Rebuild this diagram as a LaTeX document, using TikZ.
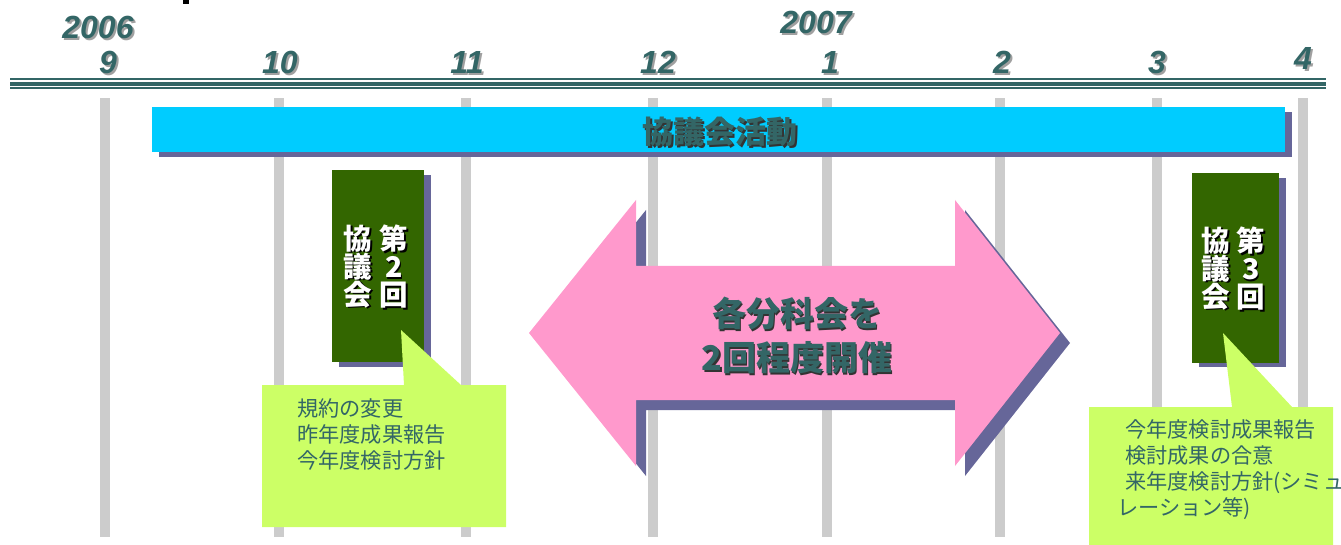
\documentclass[tikz,border=0pt]{standalone}
\usepackage{fontspec}
\setmainfont{Liberation Sans}
\newfontfamily\cjk{Noto Sans CJK JP}
\definecolor{tealtxt}{HTML}{336666}
\definecolor{shadowg}{HTML}{A0A0A0}
\definecolor{barg}{HTML}{CCCCCC}
\definecolor{bannerc}{HTML}{00CCFF}
\definecolor{shadowp}{HTML}{666699}
\definecolor{pinkc}{HTML}{FF99CC}
\definecolor{darkg}{HTML}{336600}
\definecolor{limec}{HTML}{CCFF66}
\begin{document}
\begin{tikzpicture}[x=1pt,y=-1pt,
  bar/.style={fill=barg,draw=none},
  mlab/.style={font=\bfseries\itshape\fontsize{32}{32}\selectfont,text=tealtxt,inner sep=0pt},
  mshad/.style={mlab,text=shadowg},
  bigcjk/.style={font=\cjk\bfseries\fontsize{31}{31}\selectfont,text=tealtxt,inner sep=0pt},
  bigshad/.style={bigcjk,text=black!80},
  arrtxt/.style={font=\cjk\bfseries\fontsize{34}{44}\selectfont,text=tealtxt,inner sep=0pt,align=center},
  arrshad/.style={arrtxt,text=black!80},
  vtxt/.style={font=\cjk\bfseries\fontsize{28.5}{28}\selectfont,text=white,inner sep=0pt,align=center},
  vshad/.style={vtxt,text=black},
  calltxt/.style={font=\cjk\fontsize{21.2}{26}\selectfont,text=tealtxt,inner sep=0pt,anchor=base west}]
\useasboundingbox (0,0) rectangle (1341,545);
\clip (0,0) rectangle (1341,545);
% title fragment
\fill[black] (183,0) rectangle (189,4);
% month labels
\foreach \x/\y/\t/\n in {98/27/2006/y6,816/22/2007/y7,108/62/9/m9,280/62/10/m10,467/62/11/m11,658/62/12/m12,830/62/1/m1,1002/62/2/m2,1157/62/3/m3,1303/58/4/m4}{
  \node[mshad] (s\n) at (\x+2,\y+2) {\t};
  \node[mlab] (\n) at (\x,\y) {\t};
}
% triple rule
\draw[tealtxt,line width=1.7pt] (10,79.2) -- (1326,79.2);
\draw[tealtxt,line width=3.4pt] (10,84) -- (1326,84);
\draw[tealtxt,line width=2pt] (10,88.3) -- (1326,88.3);
% gray bars
\foreach \x/\n in {105/b9,279/b10,466/b11,653/b12,827/b1,1000/b2,1157/b3,1303/b4}{
  \fill[bar] (\x-5,98) rectangle (\x+5,537);
  \coordinate (\n) at (\x,98);
}
% banner
\fill[shadowp] (159,112) rectangle (1292,157);
\node[fill=bannerc,minimum width=1133pt,minimum height=45pt,inner sep=0pt] (banner) at (718.5,129.5) {};
\node[bigshad] (bannershad) at (721.5,133.5) {協議会活動};
\node[bigcjk] (bannertxt) at (720,132) {協議会活動};
% double arrow
\fill[shadowp] (539,343) -- (646,210) -- (646,276) -- (965,276) -- (965,210) -- (1070,343) -- (965,476) -- (965,410) -- (646,410) -- (646,476) -- cycle;
\fill[pinkc] (529,333) -- (636,200) -- (636,266) -- (955,266) -- (955,200) -- (1060,333) -- (955,466) -- (955,400) -- (636,400) -- (636,466) -- cycle;
\node[arrshad] (arrshad) at (798.5,337) {各分科会を\\2回程度開催};
\node[arrtxt] (arrtxt) at (797,335.5) {各分科会を\\2回程度開催};
% meeting boxes
\fill[shadowp] (339,175) rectangle (431,367);
\node[fill=darkg,minimum width=92pt,minimum height=192pt,inner sep=0pt] (meet2) at (378,266) {};
\fill[shadowp] (1199,178) rectangle (1286,367);
\node[fill=darkg,minimum width=87pt,minimum height=190pt,inner sep=0pt] (meet3) at (1235.5,268) {};
\foreach \cx/\cy/\t/\n in {358/266.5/協\\議\\会/a2,394/267/第\\2\\回/b2x,1216/268.5/協\\議\\会/a3,1251/269/第\\3\\回/b3x}{
  \node[vshad] (s\n) at (\cx+1.5,\cy+1.5) {\t};
  \node[vtxt] (\n) at (\cx,\cy) {\t};
}
% callouts
\fill[limec] (262,385) -- (404,385) -- (401,330) -- (461,385) -- (506,385) -- (506,527) -- (262,527) -- cycle;
\coordinate (tip2) at (401,330);
\fill[limec] (1089,407) -- (1232,407) -- (1223,333) -- (1292,407) -- (1333,407) -- (1333,550) -- (1089,550) -- cycle;
\coordinate (tip3) at (1223,333);
\node[calltxt] (c1) at (297,416) {規約の変更};
\node[calltxt] (c2) at (297,442) {昨年度成果報告};
\node[calltxt] (c3) at (297,468) {今年度検討方針};
\node[calltxt] (d1) at (1125,437) {今年度検討成果報告};
\node[calltxt] (d2) at (1125,463) {検討成果の合意};
\node[calltxt] (d3) at (1125,489) {来年度検討方針(シミュ};
\node[calltxt] (d4) at (1117,515) {レーション等)};
\end{tikzpicture}
\end{document}
